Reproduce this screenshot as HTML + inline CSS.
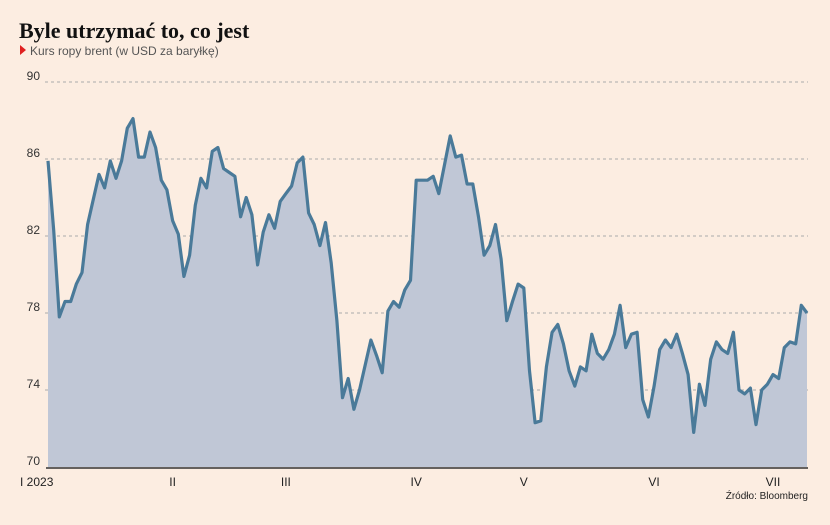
<!DOCTYPE html>
<html><head><meta charset="utf-8"><style>
body{margin:0;background:#fcede1;width:830px;height:520px;overflow:hidden;font-family:"Liberation Sans",sans-serif}
</style></head><body>
<svg width="830" height="520">
<rect width="830" height="520" fill="#fcede1"/>
<text x="19" y="38" font-family="Liberation Serif,serif" font-weight="bold" font-size="22" fill="#111">Byle utrzymać to, co jest</text>
<polygon points="20,45 26,50 20,55" fill="#e02020"/>
<text x="30" y="55" font-size="12" fill="#555">Kurs ropy brent (w USD za baryłkę)</text>
<g id="grid"></g>
<g id="plot"></g>
<g id="xlab"></g>
<text x="808" y="499" font-size="10" fill="#222" text-anchor="end">Źródło: Bloomberg</text>
</svg>
<script>
const yTicks=[70,74,78,82,86,90];
const values=[85.9,82.3,77.8,78.6,78.6,79.5,80.1,82.6,83.9,85.2,84.5,85.9,85.0,85.9,87.6,88.1,86.1,86.1,87.4,86.6,84.9,84.4,82.8,82.1,79.9,81.0,83.6,85.0,84.5,86.4,86.6,85.5,85.3,85.1,83.0,84.0,83.1,80.5,82.2,83.1,82.4,83.8,84.2,84.6,85.8,86.1,83.2,82.6,81.5,82.7,80.6,77.6,73.6,74.6,73.0,74.0,75.3,76.6,75.8,74.9,78.1,78.6,78.3,79.2,79.7,84.9,84.9,84.9,85.1,84.2,85.7,87.2,86.1,86.2,84.7,84.7,83.0,81.0,81.5,82.6,80.8,77.6,78.6,79.5,79.3,75.0,72.3,72.4,75.2,77.0,77.4,76.4,75.0,74.2,75.2,75.0,76.9,75.9,75.6,76.1,76.9,78.4,76.2,76.9,77.0,73.5,72.6,74.2,76.1,76.6,76.2,76.9,75.9,74.8,71.8,74.3,73.2,75.6,76.5,76.1,75.9,77.0,74.0,73.8,74.1,72.2,74.0,74.3,74.8,74.6,76.2,76.5,76.4,78.4,78.0];
const monthLabels=["I 2023","II","III","IV","V","VI","VII"];
const monthIdx=[0,22,42,65,84,107,128];
const NS="http://www.w3.org/2000/svg";
const x0=48,x1=807,yTop=82,yBot=467;
const xs=i=>x0+(x1-x0)*i/(values.length-1);
const ys=v=>yBot-(v-70)/(90-70)*(yBot-yTop);
function mk(t,a,p){const e=document.createElementNS(NS,t);for(const k in a)e.setAttribute(k,a[k]);p.appendChild(e);return e;}
const grid=document.getElementById('grid');
yTicks.forEach(v=>{
 if(v>70){const l=mk('line',{x1:45,x2:808,y1:ys(v),y2:ys(v),stroke:'#aaa','stroke-dasharray':'3,3','stroke-width':1},grid);
 
 }
 const t=mk('text',{x:40,y:ys(v)-2,'text-anchor':'end','font-size':12,fill:'#333'},grid);
 t.textContent=v;
 
 
});
const plot=document.getElementById('plot');
let pts=values.map((v,i)=>xs(i).toFixed(1)+','+ys(v).toFixed(1));
const area=mk('polygon',{points:x0+','+yBot+' '+pts.join(' ')+' '+x1+','+yBot,fill:'#c0c7d6'},plot);


const line=mk('polyline',{points:pts.join(' '),fill:'none',stroke:'#4a7a99','stroke-width':3.2,'stroke-linejoin':'round'},plot);


const ax=mk('line',{x1:46,x2:808,y1:468,y2:468,stroke:'#333','stroke-width':1.5},plot);


const xl=document.getElementById('xlab');
monthLabels.forEach((m,i)=>{
 const t=mk('text',{x:i==0?20:xs(monthIdx[i]),y:486,'text-anchor':i==0?'start':'middle','font-size':12,fill:'#222'},xl);
 t.textContent=m;
 
 
});
</script>
</body></html>
